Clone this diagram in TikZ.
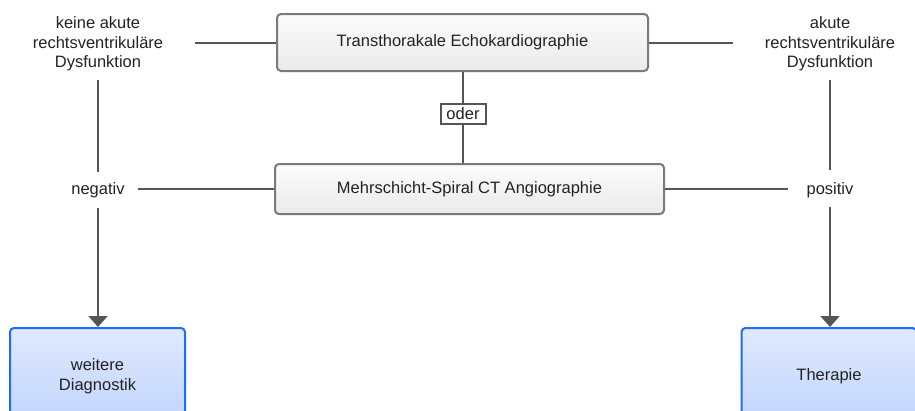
\documentclass[tikz,border=0pt]{standalone}
\usepackage{fontspec}
\setmainfont{Liberation Sans}
\usetikzlibrary{arrows.meta}
\definecolor{ln}{HTML}{555555}
\definecolor{gbd}{HTML}{7A7A7A}
\definecolor{gtop}{HTML}{FCFCFC}
\definecolor{gbot}{HTML}{EAEAEA}
\definecolor{btop}{HTML}{E0E9FF}
\definecolor{bbot}{HTML}{C0D4FC}
\definecolor{bbd}{HTML}{1E6BFF}
\definecolor{tx}{HTML}{222222}
\begin{document}
\begin{tikzpicture}[x=1pt,y=-1pt,
  every node/.style={font=\fontsize{16.5}{19.5}\selectfont, text=tx},
  graybox/.style={draw=gbd, line width=2pt, rounded corners=4pt, top color=gtop, bottom color=gbot, inner sep=0pt},
  bluebox/.style={draw=bbd, line width=2pt, rounded corners=4pt, top color=btop, bottom color=bbot, inner sep=0pt, align=center, minimum width=175pt, minimum height=96pt},
  lbl/.style={align=center, inner sep=0pt},
  conn/.style={draw=ln, line width=2pt},
  arr/.style={conn, -{Triangle[width=19pt,length=11pt]}}
]
\useasboundingbox (0,0) rectangle (915,410);

\node[graybox, minimum width=371pt, minimum height=57pt] (tte) at (462.5,42.5) {Transthorakale Echokardiographie};
\node[graybox, minimum width=389pt, minimum height=50pt] (ct) at (469.5,189) {Mehrschicht-Spiral CT Angiographie};
\node[draw=ln, line width=2pt, fill=white, minimum width=45pt, minimum height=20pt, inner sep=0pt] (oder) at (463,114) {oder};

\node[lbl] (kl) at (98,44) {keine akute\\rechtsventrikuläre\\Dysfunktion};
\node[lbl] (kr) at (830,44) {akute\\rechtsventrikuläre\\Dysfunktion};
\node[lbl] (neg) at (98,190) {negativ};
\node[lbl] (pos) at (830,190) {positiv};

\node[bluebox] (wd) at (97.5,376) {weitere\\Diagnostik};
\node[bluebox] (tb) at (829,376) {Therapie};

\draw[conn] (oder.north) -- (oder.north |- tte.south);
\draw[conn] (oder.south) -- (oder.south |- ct.north);

\draw[conn, shorten >=97pt] (tte.west) -- (tte.west -| kl);
\draw[conn, shorten >=97pt] (tte.east) -- (tte.east -| kr);

\draw[conn, shorten <=9pt, shorten >=10pt] (kl) -- (neg);
\draw[conn, shorten <=9pt, shorten >=12pt] (kr) -- (pos);

\draw[conn, shorten >=40pt] (ct.west) -- (ct.west -| neg);
\draw[conn, shorten >=42pt] (ct.east) -- (ct.east -| pos);

\draw[arr, shorten <=10pt] (neg) -- (neg |- wd.north);
\draw[arr, shorten <=9pt] (pos) -- (pos |- tb.north);
\end{tikzpicture}
\end{document}
